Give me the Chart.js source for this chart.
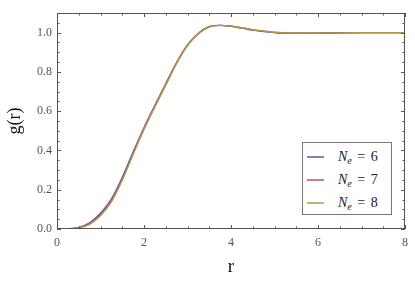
<!DOCTYPE html>
<html>
<head>
<meta charset="utf-8">
<script src="https://cdn.jsdelivr.net/npm/chart.js@4"></script>
<style>
  html, body { margin: 0; padding: 0; background: #fff; }
  #wrap { position: relative; width: 415px; height: 282px; }
  #legend {
    position: absolute; left: 302px; top: 142px; width: 90px; height: 73px;
    border: 1px solid #777; background: #fff; box-sizing: border-box;
    font-family: "Liberation Serif", serif; font-size: 14px; color: #222;
  }
  .item { position: absolute; left: 0; height: 16px; line-height: 16px; white-space: nowrap; }
  .swatch { position: absolute; left: 4px; top: 7px; width: 17px; height: 2px; }
  .lbl { position: absolute; left: 35px; top: 0; word-spacing: 2px; }
  .lbl sub { font-size: 10px; vertical-align: -3px; line-height: 0; }
</style>
</head>
<body>
<div id="wrap">
  <canvas id="chart-canvas" width="415" height="282"></canvas>
  <div id="legend"></div>
</div>
<script>
// radial distance r
var rValues = [0, 0.25, 0.5, 0.75, 1.0, 1.25, 1.5, 1.75, 2.0, 2.25, 2.5, 2.75, 3.0, 3.25, 3.5, 3.75, 4.0, 4.25, 4.5, 4.75, 5.0, 5.25, 5.5, 6.0, 6.5, 7.0, 7.5, 8.0];

// g(r) for each number of electrons
var gNe6 = [0, 0.001, 0.008, 0.032, 0.080, 0.152, 0.262, 0.392, 0.516, 0.630, 0.740, 0.848, 0.938, 0.997, 1.030, 1.037, 1.032, 1.023, 1.013, 1.006, 1.000, 0.997, 0.997, 0.998, 0.999, 1.000, 1.000, 1.000];
var gNe7 = [0, 0.0007, 0.006, 0.028, 0.074, 0.145, 0.255, 0.386, 0.511, 0.626, 0.736, 0.846, 0.936, 0.996, 1.030, 1.037, 1.033, 1.024, 1.014, 1.007, 1.001, 0.998, 0.997, 0.998, 0.999, 1.000, 1.000, 1.000];
var gNe8 = [0, 0.0005, 0.005, 0.024, 0.068, 0.138, 0.248, 0.380, 0.507, 0.622, 0.733, 0.843, 0.934, 0.995, 1.029, 1.037, 1.034, 1.025, 1.015, 1.008, 1.002, 0.999, 0.998, 0.998, 0.999, 1.000, 1.000, 1.000];

var seriesLabels = ["6", "7", "8"];
var seriesColors = ["#5a50a8", "#b4507e", "#a99c44"];

var xTicks = [0, 2, 4, 6, 8];

function toPoints(ys) {
  return rValues.map(function (r, i) { return { x: r, y: ys[i] }; });
}

var serif = "'Liberation Serif', 'Times New Roman', serif";

// frame with inward ticks on all four sides (Mathematica style)
var framePlugin = {
  id: 'frame',
  afterDraw: function (chart) {
    var ctx = chart.ctx, a = chart.chartArea;
    var xs = chart.scales.x, ys = chart.scales.y;
    ctx.save();
    ctx.strokeStyle = '#555';
    ctx.lineWidth = 1;
    ctx.strokeRect(a.left + 0.5, a.top + 0.5, a.right - a.left - 1, a.bottom - a.top - 1);
    ctx.beginPath();
    var v, px, len;
    for (v = 0; v <= 8.001; v += 0.5) {
      px = Math.round(xs.getPixelForValue(v)) + 0.5;
      len = (Math.abs(v % 2) < 1e-6) ? 4 : 2.5;
      ctx.moveTo(px, a.bottom); ctx.lineTo(px, a.bottom - len);
      ctx.moveTo(px, a.top); ctx.lineTo(px, a.top + len);
    }
    for (v = 0; v <= 1.1001; v += 0.05) {
      px = Math.round(ys.getPixelForValue(v)) + 0.5;
      var k = Math.round(v * 100);
      len = (k % 20 === 0) ? 4 : 2.5;
      ctx.moveTo(a.left, px); ctx.lineTo(a.left + len, px);
      ctx.moveTo(a.right, px); ctx.lineTo(a.right - len, px);
    }
    ctx.stroke();
    ctx.restore();
  }
};

var ctx = document.getElementById("chart-canvas");
// order: higher is drawn first, so N_e = 8 ends up on top
var chartCanvas = new Chart(ctx, {
  type: 'line',
  data: {
    datasets: [
      { label: seriesLabels[0], data: toPoints(gNe6), borderColor: seriesColors[0], order: 3 },
      { label: seriesLabels[1], data: toPoints(gNe7), borderColor: seriesColors[1], order: 2 },
      { label: seriesLabels[2], data: toPoints(gNe8), borderColor: seriesColors[2], order: 1 }
    ]
  },
  options: {
    responsive: false,
    animation: false,
    parsing: false,
    elements: {
      point: { radius: 0 },
      line: { borderWidth: 1.4, cubicInterpolationMode: 'monotone', fill: false }
    },
    layout: { padding: { left: 0, right: 9, top: 13, bottom: 0 } },
    plugins: { legend: { display: false }, tooltip: { enabled: false } },
    scales: {
      x: {
        type: 'linear', min: 0, max: 8,
        grid: { display: false, drawTicks: false },
        border: { display: false },
        afterBuildTicks: function (s) { s.ticks = xTicks.map(function (v) { return { value: v }; }); },
        afterFit: function (s) { s.height = 53; },
        ticks: { padding: 7, color: '#555', font: { family: serif, size: 12 }, maxRotation: 0,
          callback: function (v) { return String(v); } },
        title: { display: true, text: 'r', color: '#111', font: { family: serif, size: 19 }, padding: { top: 8 } }
      },
      y: {
        type: 'linear', min: 0, max: 1.1,
        grid: { display: false, drawTicks: false },
        border: { display: false },
        afterBuildTicks: function (s) { s.ticks = [0, 0.2, 0.4, 0.6, 0.8, 1.0].map(function (v) { return { value: v }; }); },
        afterFit: function (s) { s.width = 57; },
        ticks: { padding: 5, color: '#555', font: { family: serif, size: 12 },
          callback: function (v) { return v.toFixed(1); } },
        title: { display: true, text: 'g(r)', color: '#111', font: { family: serif, size: 18 }, padding: { bottom: 2 } }
      }
    }
  },
  plugins: [framePlugin]
});

// HTML legend built from the datasets (for the N_e subscript)
var legendBox = document.getElementById('legend');
chartCanvas.data.datasets.forEach(function (ds, i) {
  var item = document.createElement('div');
  item.className = 'item';
  item.style.top = (6 + i * 23) + 'px';
  item.innerHTML = '<span class="swatch" style="background:' + ds.borderColor + ';opacity:0.75"></span>' +
    '<span class="lbl"><i>N</i><sub><i>e</i></sub> = ' + ds.label + '</span>';
  legendBox.appendChild(item);
});
</script>
</body>
</html>
